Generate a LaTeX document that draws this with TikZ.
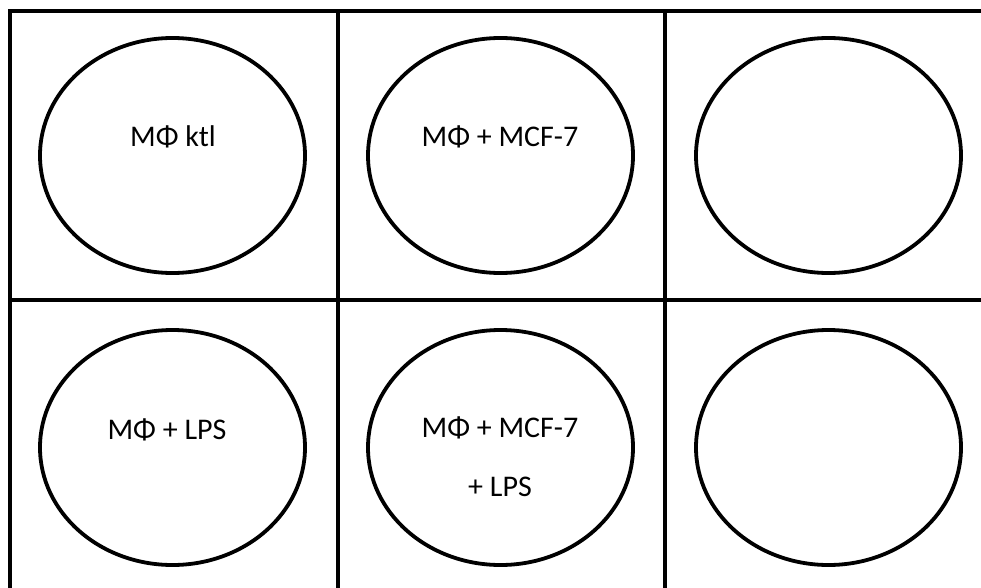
\documentclass[tikz,border=0pt]{standalone}
\usepackage{fontspec}
\setmainfont{Carlito}
\usetikzlibrary{shapes.geometric}
\begin{document}
\begin{tikzpicture}[x=1pt,y=-1pt,
  gridline/.style={line width=4pt},
  dish/.style={draw,line width=3.8pt,ellipse,minimum width=265pt,minimum height=235pt,inner sep=0pt},
  lbl/.style={font=\fontsize{30}{36}\selectfont,inner sep=0pt,anchor=center}]
\useasboundingbox (0,0) rectangle (981,588);
\draw[gridline] (1000,11.5) -- (10,11.5) -- (10,600);
\draw[gridline] (10,300) -- (1000,300);
\draw[gridline] (338,11.5) -- (338,600);
\draw[gridline] (665,11.5) -- (665,600);
\node[dish] (d1) at (172.5,155.5) {};
\node[dish] (d2) at (500.5,155.5) {};
\node[dish] (d3) at (828.5,155.5) {};
\node[dish] (d4) at (172.5,447.5) {};
\node[dish] (d5) at (500.5,447.5) {};
\node[dish] (d6) at (828.5,447.5) {};
\node[lbl] (t1) at (173,137) {MΦ ktl};
\node[lbl] (t2) at (500,137) {MΦ + MCF-7};
\node[lbl] (t4) at (167,430) {MΦ + LPS};
\node[lbl] (t5) at (500,428) {MΦ + MCF-7};
\node[lbl] (t6) at (500,487) {+ LPS};
\end{tikzpicture}
\end{document}
